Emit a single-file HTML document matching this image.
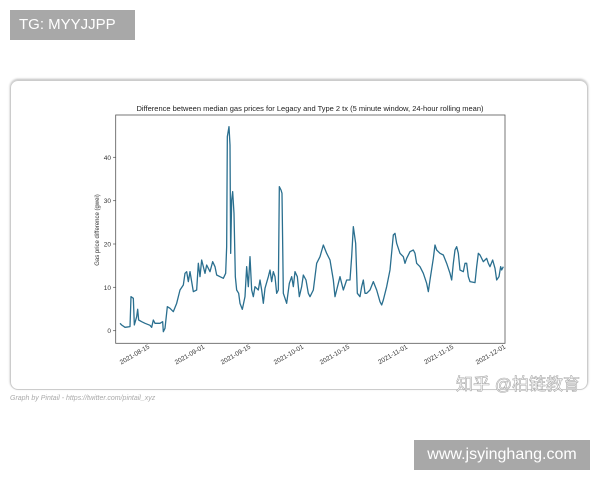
<!DOCTYPE html>
<html><head><meta charset="utf-8"><style>
body{margin:0;width:600px;height:480px;background:#fff;position:relative;overflow:hidden;font-family:"Liberation Sans",sans-serif}
.tg{position:absolute;left:10px;top:10px;width:125px;height:30px;background:#a8a8a8;color:#fff;font-size:15px;line-height:30px;text-indent:9px}
.card{position:absolute;left:10px;top:80px;width:576px;height:308px;border:1px solid #ccc;border-radius:8px;box-shadow:0 -1px 2px #bbb}
.cap{position:absolute;left:10px;top:395px;font-size:7px;color:#aaa;font-style:italic}
.wm{position:absolute;left:456px;top:370px;font-size:17px;color:#fff;-webkit-text-stroke:0.6px #aaa;font-family:"Liberation Sans","Noto Sans CJK SC",sans-serif}
.www{position:absolute;left:414px;top:440px;width:176px;height:30px;background:#a8a8a8;color:#fff;font-size:16px;line-height:30px;text-align:center}
</style></head><body>
<div class="tg">TG: MYYJJPP</div>
<div class="card"></div>
<svg width="600" height="480" style="position:absolute;left:0;top:0" font-family="Liberation Sans,sans-serif">
<text x="310" y="111" font-size="7.5" text-anchor="middle" fill="#222">Difference between median gas prices for Legacy and Type 2 tx (5 minute window, 24-hour rolling mean)</text>
<rect x="115.7" y="115" width="389.3" height="228.3" fill="none" stroke="#555" stroke-width="0.8"/>
<g font-size="6.5" fill="#333" text-anchor="end">
<text x="111" y="333">0</text><text x="111" y="290">10</text><text x="111" y="246.5">20</text><text x="111" y="203">30</text><text x="111" y="160">40</text>
</g>
<g stroke="#555" stroke-width="0.7">
<line x1="113" x2="115.7" y1="330.7" y2="330.7"/><line x1="113" x2="115.7" y1="287.3" y2="287.3"/><line x1="113" x2="115.7" y1="244" y2="244"/><line x1="113" x2="115.7" y1="200.7" y2="200.7"/><line x1="113" x2="115.7" y1="157.3" y2="157.3"/>
</g>
<text transform="translate(99,230) rotate(-90)" font-size="6" fill="#333" text-anchor="middle">Gas price difference (gwei)</text>
<g font-size="6.5" fill="#333" text-anchor="end">
<text transform="translate(150,348) rotate(-30)">2021-08-15</text>
<text transform="translate(205,348) rotate(-30)">2021-09-01</text>
<text transform="translate(251,348) rotate(-30)">2021-09-15</text>
<text transform="translate(304,348) rotate(-30)">2021-10-01</text>
<text transform="translate(350,348) rotate(-30)">2021-10-15</text>
<text transform="translate(408,348) rotate(-30)">2021-11-01</text>
<text transform="translate(454,348) rotate(-30)">2021-11-15</text>
<text transform="translate(506,348) rotate(-30)">2021-12-01</text>
</g>
<g transform="translate(80,90) scale(0.33333)">
<polyline fill="none" stroke="#2a6f8f" stroke-width="1.3" vector-effect="non-scaling-stroke" stroke-linejoin="round" points="120,700 125,705 135,712 150,710 153,620 160,625 163,705 170,680 173,658 176,690 185,695 195,700 210,706 215,712 220,690 225,700 240,700 248,695 250,725 255,715 262,650 270,655 280,665 290,640 300,600 310,585 315,550 320,545 325,575 330,545 340,605 350,600 355,520 360,560 365,510 375,550 380,525 390,545 398,515 405,530 410,555 420,560 430,565 437,550 440,470 442,140 447,110 450,165 452,490 455,330 458,305 462,370 466,560 470,600 476,610 480,640 487,658 495,620 500,530 505,590 510,500 515,600 520,620 525,590 535,600 540,570 545,600 550,640 555,595 565,560 570,540 575,575 580,545 585,560 590,610 595,600 598,290 603,300 606,310 610,610 620,640 628,580 635,560 640,590 645,545 652,560 658,620 665,590 670,555 678,570 685,610 690,620 700,600 710,520 720,500 730,465 740,490 750,510 760,570 765,620 770,600 780,560 790,600 800,570 810,570 815,500 820,410 827,460 832,610 840,620 845,590 850,570 855,610 860,610 870,600 880,575 890,600 900,635 905,645 910,630 920,590 930,540 940,435 945,430 950,460 960,490 970,500 975,520 980,505 990,485 1000,480 1005,490 1010,520 1020,530 1030,550 1040,580 1045,605 1050,570 1060,505 1065,465 1070,480 1080,490 1090,495 1100,520 1110,550 1115,570 1120,520 1125,480 1130,470 1135,490 1140,540 1150,545 1155,520 1160,520 1165,560 1170,575 1185,578 1190,530 1195,490 1200,495 1210,515 1215,510 1220,505 1225,520 1230,530 1238,510 1245,535 1250,570 1257,560 1262,530 1265,540 1270,530"/>
</g>
</svg>
<div class="wm">知乎 @柏链教育</div>
<div class="cap">Graph by Pintail - https://twitter.com/pintail_xyz</div>
<div class="www">www.jsyinghang.com</div>
</body></html>
